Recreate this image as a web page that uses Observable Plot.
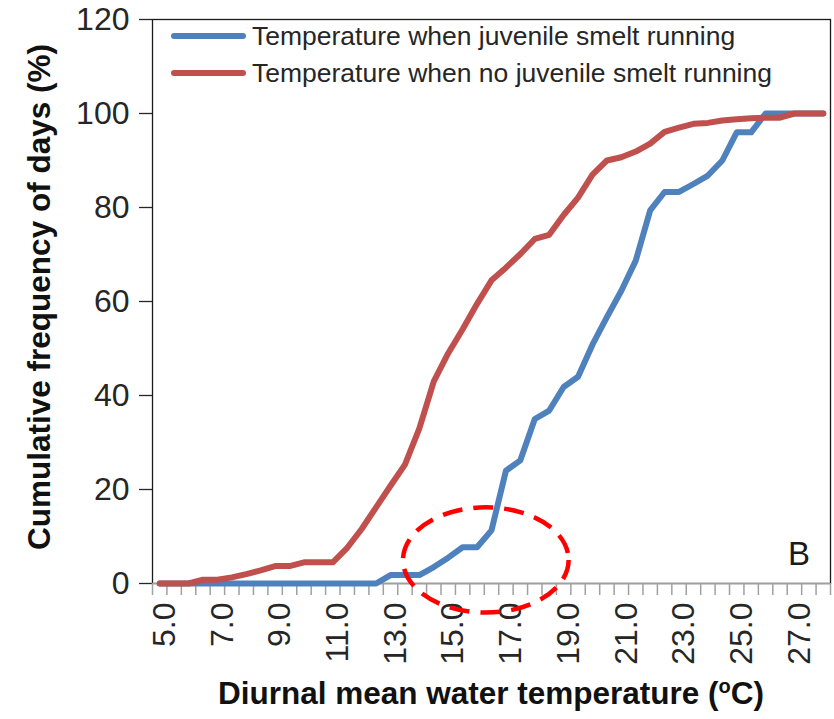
<!DOCTYPE html>
<html><head><meta charset="utf-8">
<script src="https://cdn.jsdelivr.net/npm/d3@7"></script>
<script src="https://cdn.jsdelivr.net/npm/@observablehq/plot@0.6"></script>
<style>
body{margin:0;background:#fff;}
svg{font-family:"Liberation Sans",Arial,sans-serif;}
</style>
</head><body><div id="chart"></div>
<script>
// Temperature categories (°C)
const temps = [5.0,5.5,6.0,6.5,7.0,7.5,8.0,8.5,9.0,9.5,10.0,10.5,11.0,11.5,12.0,12.5,13.0,13.5,14.0,14.5,15.0,15.5,16.0,16.5,17.0,17.5,18.0,18.5,19.0,19.5,20.0,20.5,21.0,21.5,22.0,22.5,23.0,23.5,24.0,24.5,25.0,25.5,26.0,26.5,27.0,27.5,28.0];
// Cumulative frequency of days (%) - juvenile smelt running
const runningPct = [0,0,0,0,0,0,0,0,0,0,0,0,0,0,0,0,1.8,1.8,1.8,3.5,5.5,7.7,7.7,11.3,24.0,26.2,35.0,36.8,41.8,44.0,50.8,56.7,62.3,68.7,79.4,83.3,83.3,85.0,86.8,90.0,96.0,96.0,100,100,100,100,100];
// Cumulative frequency of days (%) - no juvenile smelt running
const notRunningPct = [0,0,0,0.8,0.8,1.3,2.0,2.8,3.7,3.7,4.5,4.5,4.5,7.6,11.6,16.2,20.8,25.3,33.0,43.0,49.0,54.1,59.5,64.5,67.2,70.1,73.3,74.2,78.4,82.1,87.0,90.0,90.7,91.9,93.6,96.1,97.0,97.8,98.0,98.5,98.8,99.0,99.1,99.1,100,100,100];

const seriesNames = ["Temperature when juvenile smelt running","Temperature when no juvenile smelt running"];
const seriesColors = ["#4F81BD","#C0504D"];
const yTicks = [0,20,40,60,80,100,120];
const xLabelTicks = [5,7,9,11,13,15,17,19,21,23,25,27];
const xTitle = "Diurnal mean water temperature (";
const xTitleSup = "o";
const xTitleEnd = "C)";
const yTitle = "Cumulative frequency of days (%)";
const panelLabel = "B";
// highlighted region (data units): centre temp, centre %, half-width °C, half-height %
const highlight = {x: 16.32, y: 4.9, rx: 2.87, ry: 11.2};

const xDomain = [temps[0] - 0.25, temps[temps.length - 1] + 0.25];
const xTickMarks = d3.range(xDomain[0], xDomain[1] + 0.01, 0.5);

const data = [];
seriesNames.forEach((s, k) => {
  const vals = k === 0 ? runningPct : notRunningPct;
  temps.forEach((t, i) => data.push({t, v: vals[i], s}));
});

const plot = Plot.plot({
  width: 834, height: 719,
  marginLeft: 152, marginRight: 4, marginTop: 19, marginBottom: 136,
  style: {fontFamily: "Liberation Sans, Arial, sans-serif", background: "#fff"},
  x: {domain: xDomain},
  y: {domain: [0, 120]},
  color: {domain: seriesNames, range: seriesColors},
  marks: [
    Plot.frame({stroke: "#1a1a1a", strokeWidth: 1.3}),
    Plot.axisY({ticks: yTicks, tickSize: 13, tickPadding: 10, fontSize: 32, color: "#262626", label: null, strokeWidth: 1.3}),
    Plot.axisX({ticks: xTickMarks, tickSize: 12, tickFormat: () => "", stroke: "#a0a0a0", strokeWidth: 1.5, label: null}),
    Plot.text(xLabelTicks, {x: d => d, y: 0, text: d => d.toFixed(1), rotate: -90, textAnchor: "end", lineAnchor: "middle", fontSize: 32, fill: "#262626", dy: 19, dx: 5}),
    Plot.ruleY([0], {stroke: "#a0a0a0", strokeWidth: 1.5}),
    Plot.line(data, {x: "t", y: "v", stroke: "s", z: "s", strokeWidth: 6, strokeLinejoin: "round", strokeLinecap: "round"})
  ]
});
document.getElementById("chart").appendChild(plot);

const svg = d3.select(plot);
const xs = plot.scale("x"), ys = plot.scale("y");
const X = v => xs.apply(v), Y = v => ys.apply(v);

// Highlight ellipse
svg.append("ellipse")
  .attr("cx", X(highlight.x)).attr("cy", Y(highlight.y))
  .attr("rx", X(highlight.x + highlight.rx) - X(highlight.x))
  .attr("ry", Y(highlight.y) - Y(highlight.y + highlight.ry))
  .attr("fill", "none").attr("stroke", "#FF0000").attr("stroke-width", 4.5)
  .attr("stroke-dasharray", "20,11");

// Legend
const lg = svg.append("g").attr("text-anchor", "start");
seriesNames.forEach((s, k) => {
  const cy = 36 + k * 37;
  lg.append("line").attr("x1", 174).attr("x2", 243).attr("y1", cy).attr("y2", cy)
    .attr("stroke", seriesColors[k]).attr("stroke-width", 6).attr("stroke-linecap", "round");
  lg.append("text").attr("x", 252).attr("y", cy).attr("dy", "0.35em")
    .attr("text-anchor", "start")
    .attr("font-size", 26.5).attr("fill", "#262626").text(s);
});

// Panel label
svg.append("text").attr("x", 788).attr("y", 565).attr("text-anchor", "start")
  .attr("font-size", 33).attr("fill", "#1a1a1a").text(panelLabel);

// Axis titles
const xt = svg.append("text").attr("x", 491).attr("y", 704).attr("text-anchor", "middle")
  .attr("font-size", 31.5).attr("font-weight", "bold").attr("fill", "#111");
xt.append("tspan").text(xTitle);
xt.append("tspan").attr("font-size", 20).attr("dy", -11).text(xTitleSup);
xt.append("tspan").attr("dy", 11).text(xTitleEnd);

svg.append("text").attr("transform", "translate(50,297) rotate(-90)").attr("text-anchor", "middle")
  .attr("font-size", 31.5).attr("font-weight", "bold").attr("fill", "#111").text(yTitle);
</script>
</body></html>
